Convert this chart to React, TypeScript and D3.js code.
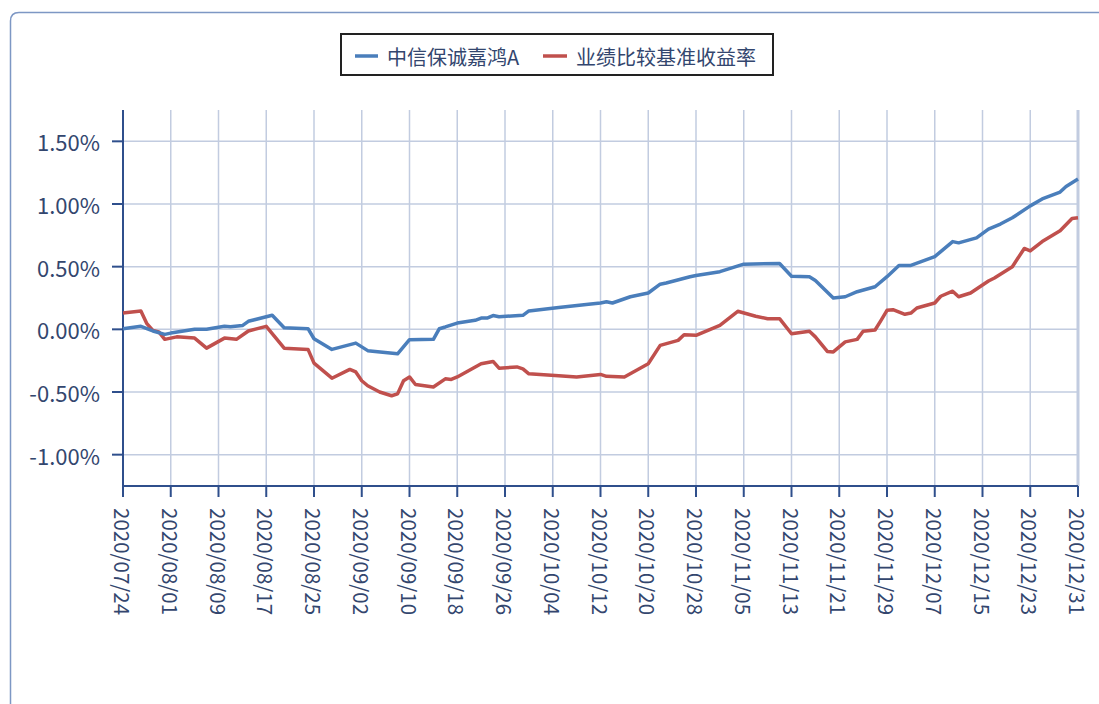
import React from 'react';
import * as d3 from 'd3';

// 中信保诚嘉鸿A vs 业绩比较基准 — cumulative return (%)
const fundDates = [
  '07/24', '07/27', '07/29', '07/31', '08/01', '08/05', '08/07', '08/10', '08/11', '08/13',
  '08/14', '08/18', '08/20', '08/24', '08/25', '08/28', '09/01', '09/03', '09/08', '09/10',
  '09/14', '09/15', '09/16', '09/18', '09/21', '09/22', '09/23', '09/24', '09/25', '09/29',
  '09/30', '10/05', '10/10', '10/12', '10/13', '10/14', '10/17', '10/20', '10/22', '10/23',
  '10/27', '10/28', '11/01', '11/03', '11/05', '11/11', '11/13', '11/16', '11/17', '11/20',
  '11/22', '11/24', '11/27', '11/29', '12/01', '12/03', '12/07', '12/08', '12/10', '12/11',
  '12/14', '12/16', '12/18', '12/20', '12/23', '12/25', '12/28', '12/29', '12/31',
];
const fundValues = [
  0.005, 0.024, -0.013, -0.04, -0.03, 0.0, 0.0, 0.024, 0.02, 0.03,
  0.064, 0.112, 0.013, 0.005, -0.075, -0.16, -0.11, -0.17, -0.195, -0.083,
  -0.08, 0.005, 0.019, 0.05, 0.072, 0.09, 0.09, 0.11, 0.1, 0.112,
  0.147, 0.174, 0.2, 0.21, 0.22, 0.21, 0.26, 0.29, 0.36, 0.37,
  0.42, 0.43, 0.46, 0.49, 0.52, 0.525, 0.424, 0.42, 0.39, 0.25,
  0.26, 0.3, 0.34, 0.42, 0.51, 0.51, 0.58, 0.62, 0.7, 0.69,
  0.73, 0.8, 0.84, 0.89, 0.985, 1.04, 1.095, 1.14, 1.2,
];

const benchDates = [
  '07/24', '07/27', '07/28', '07/29', '07/30', '07/31', '08/02', '08/05', '08/07', '08/10',
  '08/12', '08/14', '08/17', '08/20', '08/24', '08/25', '08/28', '08/31', '09/01', '09/02',
  '09/03', '09/05', '09/07', '09/08', '09/09', '09/10', '09/11', '09/14', '09/16', '09/17',
  '09/18', '09/22', '09/24', '09/25', '09/28', '09/29', '09/30', '10/05', '10/08', '10/12',
  '10/13', '10/16', '10/20', '10/22', '10/25', '10/26', '10/28', '11/01', '11/04', '11/07',
  '11/09', '11/11', '11/13', '11/16', '11/17', '11/19', '11/20', '11/22', '11/24', '11/25',
  '11/27', '11/28', '11/29', '11/30', '12/02', '12/03', '12/04', '12/07', '12/08', '12/10',
  '12/11', '12/13', '12/16', '12/17', '12/20', '12/22', '12/23', '12/25', '12/28', '12/30',
  '12/31',
];
const benchValues = [
  0.13, 0.146, 0.045, -0.008, -0.02, -0.08, -0.06, -0.07, -0.15, -0.07,
  -0.08, -0.013, 0.024, -0.15, -0.16, -0.27, -0.39, -0.32, -0.34, -0.41,
  -0.45, -0.5, -0.53, -0.515, -0.41, -0.38, -0.44, -0.46, -0.395, -0.4,
  -0.38, -0.275, -0.256, -0.31, -0.3, -0.315, -0.355, -0.37, -0.38, -0.36,
  -0.375, -0.38, -0.275, -0.128, -0.088, -0.043, -0.048, 0.032, 0.144, 0.104,
  0.085, 0.085, -0.035, -0.015, -0.06, -0.176, -0.18, -0.1, -0.08, -0.015,
  -0.005, 0.072, 0.152, 0.157, 0.12, 0.13, 0.17, 0.21, 0.264, 0.304,
  0.26, 0.29, 0.386, 0.41, 0.5, 0.645, 0.626, 0.7, 0.786, 0.885,
  0.89,
];

const seriesNames = ['中信保诚嘉鸿A', '业绩比较基准收益率'];
const yTicks = [-1, -0.5, 0, 0.5, 1, 1.5];
const xTickLabels = [
  '2020/07/24', '2020/08/01', '2020/08/09', '2020/08/17', '2020/08/25', '2020/09/02',
  '2020/09/10', '2020/09/18', '2020/09/26', '2020/10/04', '2020/10/12', '2020/10/20',
  '2020/10/28', '2020/11/05', '2020/11/13', '2020/11/21', '2020/11/29', '2020/12/07',
  '2020/12/15', '2020/12/23', '2020/12/31',
];

const W = 1099;
const H = 704;
const plot = { left: 123, right: 1078, top: 110, bottom: 486 };
const FONT = '"Noto Sans CJK SC", "DejaVu Sans", sans-serif';
const axisColor = '#2f4f8c';
const gridColor = '#c2cce0';
const textColor = '#33466e';
const blue = '#4a7ebb';
const red = '#c0504d';

const parse = d3.timeParse('%Y/%m/%d');

const App: React.FC = () => {
  const x = d3.scaleTime()
    .domain([parse('2020/07/24')!, parse('2020/12/31')!])
    .range([plot.left, plot.right]);
  const y = d3.scaleLinear()
    .domain([-1.25, 1.75])
    .range([plot.bottom, plot.top]);

  const toPoints = (dates: string[], vals: number[]) =>
    dates.map((d, i) => [parse('2020/' + d)!, vals[i]] as [Date, number]);

  const line = d3.line<[Date, number]>()
    .x(d => x(d[0]))
    .y(d => y(d[1]));

  const fund = toPoints(fundDates, fundValues);
  const bench = toPoints(benchDates, benchValues);
  const fmt = (v: number) => v.toFixed(2) + '%';

  return (
    <div style={{ position: 'absolute', left: 0, top: 0 }}>
      <svg width={W} height={H} style={{ display: 'block', background: '#fff' }} fontFamily={FONT}>
        {/* outer frame */}
        <path d={`M10.5,${H} L10.5,21 Q10.5,12.5 19,12.5 L${W},12.5`} fill="none" stroke="#7d97c4" strokeWidth={1.5} />

        {/* grid */}
        {xTickLabels.map(t => {
          const xx = x(parse(t)!);
          return (
            <line key={'gx' + t} x1={xx} x2={xx} y1={plot.top} y2={plot.bottom}
              stroke={gridColor} strokeWidth={xx >= plot.right - 1 ? 3 : 1.5} />
          );
        })}
        {yTicks.map(v => (
          <line key={'gy' + v} x1={plot.left} x2={plot.right} y1={y(v)} y2={y(v)} stroke={gridColor} strokeWidth={1.5} />
        ))}

        {/* axes */}
        <line x1={plot.left} x2={plot.left} y1={plot.top} y2={plot.bottom + 1} stroke={axisColor} strokeWidth={2} />
        <line x1={plot.left} x2={plot.right} y1={plot.bottom} y2={plot.bottom} stroke={axisColor} strokeWidth={2} />
        {yTicks.map(v => (
          <g key={'ty' + v}>
            <line x1={plot.left - 11} x2={plot.left} y1={y(v)} y2={y(v)} stroke={axisColor} strokeWidth={2} />
            <text x={100} y={y(v)} textAnchor="end" dominantBaseline="central" fontSize={22} fill={textColor}>
              {fmt(v)}
            </text>
          </g>
        ))}
        {xTickLabels.map(t => {
          const xx = x(parse(t)!);
          return (
            <g key={'tx' + t}>
              <line x1={xx} x2={xx} y1={plot.bottom} y2={plot.bottom + 11} stroke={axisColor} strokeWidth={2} />
              <text transform={`translate(${xx},508) rotate(90)`} dominantBaseline="central" fontSize={20.5} fill={textColor}>
                {t}
              </text>
            </g>
          );
        })}

        {/* series */}
        <path d={line(bench)!} fill="none" stroke={red} strokeWidth={3.5} strokeLinejoin="round" />
        <path d={line(fund)!} fill="none" stroke={blue} strokeWidth={3.5} strokeLinejoin="round" />

        {/* legend */}
        <rect x={341} y={34} width={432} height={41} fill="#fff" stroke="#222" strokeWidth={2} />
        <line x1={355} x2={378} y1={56} y2={56} stroke={blue} strokeWidth={3.5} />
        <text x={387} y={56} dominantBaseline="central" fontSize={20} fill={textColor}>{seriesNames[0]}</text>
        <line x1={543} x2={567} y1={56} y2={56} stroke={red} strokeWidth={3.5} />
        <text x={576} y={56} dominantBaseline="central" fontSize={20} fill={textColor}>{seriesNames[1]}</text>
      </svg>
    </div>
  );
};

export default App;
